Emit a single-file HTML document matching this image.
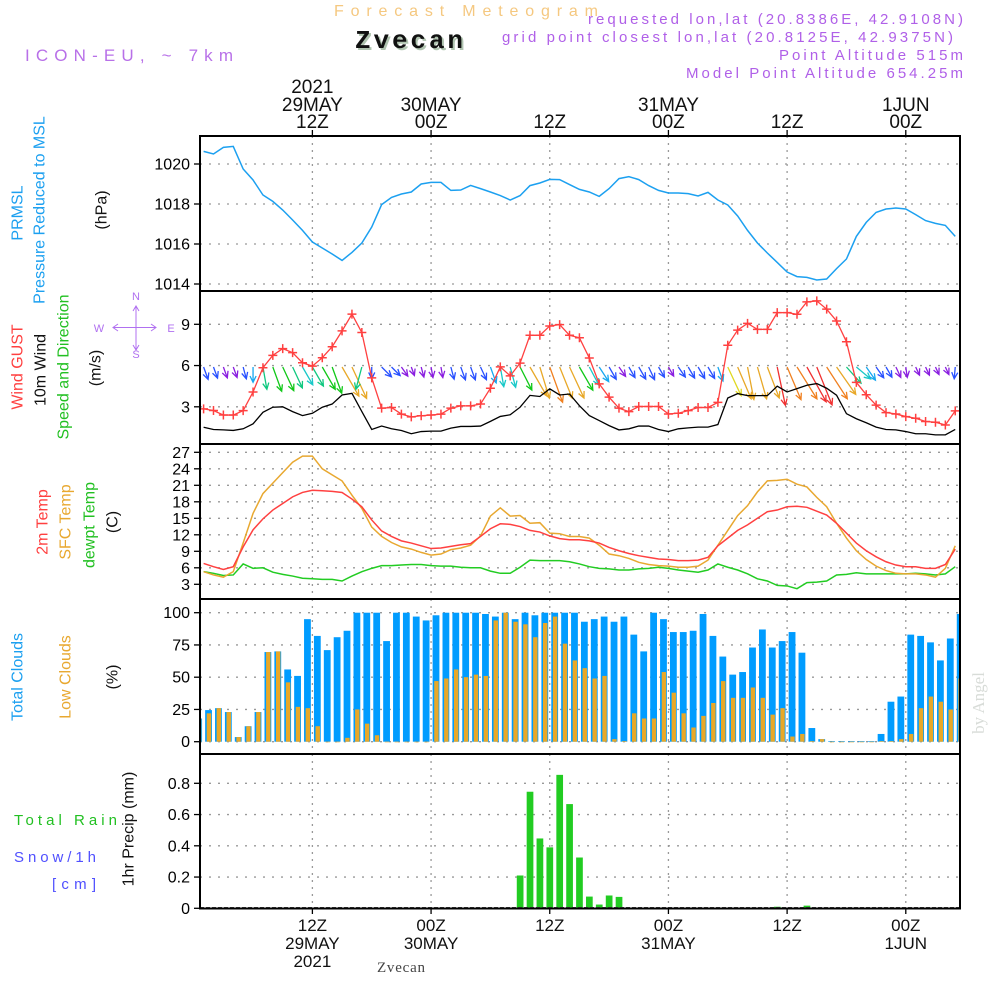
<!DOCTYPE html>
<html><head><meta charset="utf-8">
<style>
html,body{margin:0;padding:0;background:#fff;}
svg{display:block;font-family:"Liberation Sans",sans-serif;}
</style></head>
<body>
<svg id="chart" width="1000" height="1000" viewBox="0 0 1000 1000" xmlns="http://www.w3.org/2000/svg">
<defs>
<clipPath id="c1"><rect x="200" y="136" width="760" height="155"/></clipPath>
<clipPath id="c2"><rect x="200" y="291" width="760" height="153"/></clipPath>
<clipPath id="c3"><rect x="200" y="444" width="760" height="155"/></clipPath>
<clipPath id="c4"><rect x="200" y="599" width="760" height="155"/></clipPath>
<clipPath id="c5"><rect x="200" y="754" width="760" height="154.5"/></clipPath>
</defs>
<rect width="1000" height="1000" fill="#fff"/>
<!-- header -->
<text x="334" y="16" font-size="16" fill="#f5c880" textLength="264">Forecast Meteogram</text>
<text x="357" y="50" font-family="Liberation Mono, monospace" font-weight="bold" font-size="26" fill="#b0c4b0" textLength="108">Zvecan</text>
<text x="355" y="48" font-family="Liberation Mono, monospace" font-weight="bold" font-size="26" fill="#111" textLength="108">Zvecan</text>
<text x="25" y="61" font-size="17" fill="#b870e8" textLength="208">ICON-EU, ~ 7km</text>
<text x="588" y="24" font-size="15" fill="#b060e8" textLength="375">requested lon,lat (20.8386E, 42.9108N)</text>
<text x="502" y="42" font-size="15" fill="#b060e8" textLength="451">grid point closest lon,lat (20.8125E, 42.9375N)</text>
<text x="779" y="60" font-size="15" fill="#b060e8" textLength="184">Point Altitude 515m</text>
<text x="686" y="78" font-size="15" fill="#b060e8" textLength="277">Model Point Altitude 654.25m</text>

<!-- left labels -->
<g font-size="16" text-anchor="middle" dominant-baseline="central">
<text transform="translate(18,213) rotate(-90)" fill="#1ca0f0">PRMSL</text>
<text transform="translate(40,210) rotate(-90)" fill="#1ca0f0">Pressure Reduced to MSL</text>
<text transform="translate(102,210) rotate(-90)" fill="#111">(hPa)</text>
<text transform="translate(18,367) rotate(-90)" fill="#ff4040">Wind GUST</text>
<text transform="translate(41,370) rotate(-90)" fill="#111">10m Wind</text>
<text transform="translate(64,367) rotate(-90)" fill="#22c022">Speed and Direction</text>
<text transform="translate(96,368) rotate(-90)" fill="#111">(m/s)</text>
<text transform="translate(43,522) rotate(-90)" fill="#ff4040">2m Temp</text>
<text transform="translate(66,522) rotate(-90)" fill="#e8a830">SFC Temp</text>
<text transform="translate(90,525) rotate(-90)" fill="#22c022">dewpt Temp</text>
<text transform="translate(113,522) rotate(-90)" fill="#111">(C)</text>
<text transform="translate(18,677) rotate(-90)" fill="#1ca0f0">Total Clouds</text>
<text transform="translate(66,677) rotate(-90)" fill="#e8a830">Low Clouds</text>
<text transform="translate(113,677) rotate(-90)" fill="#111">(%)</text>
<text transform="translate(129,829) rotate(-90)" fill="#111">1hr Precip (mm)</text>
</g>
<text x="14" y="825" font-size="15" fill="#22c022" textLength="103">Total   Rain</text>
<text x="14" y="862" font-size="15" fill="#5050ff" textLength="82">Snow/1h</text>
<text x="52" y="889" font-size="15" fill="#5050ff" textLength="44">[cm]</text>
<!-- compass -->
<g fill="#b070f0" stroke="none" font-size="11" text-anchor="middle">
<text x="136" y="300">N</text><text x="136" y="358">S</text><text x="99" y="332">W</text><text x="171" y="332">E</text>
<g stroke="#b070f0" stroke-width="1" fill="none">
<path d="M113,327.5 H156 M136,306 V350 M118,324 L113,327.5 L118,331 M151,324 L156,327.5 L151,331 M133,311 L136,306 L139,311 M133,345 L136,350 L139,345"/>
</g></g>
<text transform="translate(984,703) rotate(-90)" font-family="Liberation Serif, serif" font-size="17" fill="#d8dcd8" text-anchor="middle">by Angel</text>
<text x="377" y="972" font-family="Liberation Serif, serif" font-size="15" fill="#444" textLength="48">Zvecan</text>

<g id="grid"></g>
<g id="marks"></g>
<g id="frames"></g>
<g id="axes"></g>
</svg>
<script>
const pressure=[1020.63,1020.5,1020.83,1020.88,1019.75,1019.2,1018.45,1018.13,1017.7,1017.2,
1016.68,1016.1,1015.8,1015.5,1015.18,1015.58,1016.05,1016.85,1017.97,1018.33,
1018.5,1018.6,1019.0,1019.08,1019.08,1018.68,1018.7,1018.93,1018.77,1018.6,
1018.42,1018.2,1018.42,1018.92,1019.05,1019.23,1019.22,1018.97,1018.73,1018.6,
1018.38,1018.77,1019.27,1019.37,1019.22,1018.92,1018.68,1018.55,1018.55,1018.52,
1018.4,1018.58,1018.2,1017.95,1017.4,1016.68,1016.05,1015.55,1015.08,1014.6,
1014.37,1014.33,1014.2,1014.25,1014.77,1015.25,1016.38,1017.08,1017.58,1017.75,
1017.8,1017.75,1017.47,1017.17,1017.03,1016.93,1016.38];
const gust=[2.85,2.73,2.4,2.4,2.72,4.08,5.84,6.74,7.23,6.94,
6.2,5.96,6.57,7.37,8.52,9.74,8.4,5.1,2.9,2.95,
2.47,2.27,2.35,2.4,2.47,2.9,3.07,3.07,3.2,4.35,
5.9,5.25,6.18,8.2,8.2,8.88,8.98,8.2,8.02,6.55,
4.67,3.7,2.9,2.65,3.02,3.02,3.02,2.48,2.53,2.72,
2.95,2.95,3.32,7.48,8.58,9.07,8.63,8.63,9.85,9.85,
9.73,10.63,10.7,10.1,9.24,7.73,4.78,3.88,3.12,2.58,
2.48,2.29,2.17,1.93,1.88,1.68,2.7];
const windSpeed=[1.51,1.35,1.32,1.28,1.4,1.76,2.6,2.97,3.0,2.65,
2.36,2.53,2.97,3.2,3.86,3.98,2.65,1.35,1.6,1.4,
1.28,1.04,1.2,1.23,1.23,1.45,1.57,1.57,1.6,1.94,
2.3,2.42,2.97,3.83,3.75,4.31,3.86,3.93,3.08,2.36,
2.0,1.63,1.32,1.4,1.6,1.6,1.35,1.2,1.4,1.47,
1.52,1.52,1.71,3.64,3.96,3.81,3.81,3.81,4.5,4.08,
4.32,4.57,4.69,4.35,3.84,2.5,2.13,1.84,1.52,1.35,
1.32,1.2,1.04,1.04,0.96,0.96,1.35];
const windDir=[20,20,20,20,15,0,10,20,25,25,
30,30,30,20,30,25,-15,0,45,45,
35,20,15,10,10,15,20,20,25,20,
10,15,27,30,17,20,22,25,30,28,
33,30,35,30,30,25,30,30,35,30,
30,30,20,25,23,11,16,21,12,23,
32,29,22,33,35,42,50,35,35,30,
25,8,25,25,25,25,-5];
const t2m=[6.8,6.2,5.7,6.2,9.8,12.9,14.9,16.5,17.7,18.9,
19.7,20.1,20.0,19.9,19.7,18.5,17.1,14.7,12.7,11.7,
10.9,10.5,10.0,9.5,9.6,9.9,10.2,10.4,11.7,13.1,
14.0,13.9,13.5,12.8,12.5,11.8,11.3,11.1,11.1,10.9,
10.5,9.7,9.1,8.6,8.2,7.9,7.6,7.5,7.3,7.3,
7.4,7.9,10.0,11.4,12.8,13.8,15.0,16.2,16.5,17.1,
17.2,17.0,16.3,15.6,14.1,12.3,10.5,9.1,8.0,7.1,
6.5,6.2,6.2,5.9,5.9,6.6,9.4];
const tsfc=[5.3,4.7,4.3,5.3,10.5,15.9,19.5,21.4,23.3,25.2,
26.3,26.3,24.0,22.9,21.8,19.2,16.8,13.4,11.7,10.6,
9.8,9.4,8.8,8.3,8.5,9.3,9.6,10.1,11.8,15.4,
16.9,15.4,15.5,14.1,14.2,12.3,12.2,11.7,11.7,11.4,
10.1,8.5,8.2,7.7,7.0,6.6,6.4,6.3,6.1,6.1,
6.3,7.4,10.1,12.8,15.5,17.3,19.8,21.8,21.9,22.1,
21.2,20.7,18.8,17.1,14.1,11.4,9.1,7.5,6.3,5.5,
5.0,4.9,4.9,4.7,4.3,5.9,10.0];
const tdew=[5.3,5.0,4.6,4.7,6.7,5.9,6.0,5.2,4.8,4.5,
4.1,4.0,3.9,3.9,3.6,4.5,5.3,5.9,6.4,6.4,
6.5,6.6,6.6,6.4,6.3,6.3,6.1,6.0,6.0,5.4,
5.0,5.0,6.1,7.4,7.3,7.3,7.3,7.1,6.7,6.2,
5.9,5.8,5.6,5.6,5.8,5.9,6.1,5.9,5.6,5.4,
5.2,5.6,6.7,6.1,5.6,4.9,4.0,3.6,2.8,2.7,
2.2,3.3,3.4,3.6,4.7,4.8,5.1,4.9,4.9,4.9,
4.9,4.9,5.0,4.9,4.7,4.9,6.2];
const totalClouds=[18,24.5,26,23,3.6,12,23,69.5,70,56,
51,95,82,71,81,86,100,100,100,78,
100,100,97,94,98,100,100,100,100,99,
97,100,95,100,98,100,100,100,100,93,
95,97,93,97,83,70,100,95,85,85,
86,99,82,66,52,54,73,87,73,78,
85,69,10.6,2,0.5,0.5,0.5,0.5,0.5,6,
31,35,83,82,77,63,80,99];
const lowClouds=[18,22,26,23,3.6,12,23,69.5,70,46,
27,26,12,0,0,3,25,14,5,0,
0,0,0,0,47,49,56,50,52,51,
94,100,93,91,81,92,97,76,63,57,
49,51,2,0.5,22,18,18,54,38,22,
11,20,30,47,34,34,42,34,21,26,
4,6,0.5,2,0,0,0,0,0,0.5,
0.5,2,6,26,35,31,25,49];
const precip=[0,0,0,0,0,0,0,0,0,0,
0,0,0,0,0,0,0,0,0,0,
0,0,0,0,0,0,0,0,0,0,
0,0,0.21,0.746,0.447,0.39,0.854,0.667,0.325,0.075,
0.024,0.082,0.073,0.003,0,0,0,0,0,0,
0,0,0,0,0,0.005,0.002,0,0.01,0,
0,0.017,0,0,0,0,0,0,0,0,
0,0,0,0,0,0,0];
const pTicks=[1014,1016,1018,1020];
const wTicks=[3,6,9];
const tTicks=[3,6,9,12,15,18,21,24,27];
const cTicks=[0,25,50,75,100];
const rTicks=[0,0.2,0.4,0.6,0.8];
const timeTickHours=[11,23,35,47,59,71];
const topLabels=[["2021","29MAY","12Z"],["","30MAY","00Z"],["","","12Z"],["","31MAY","00Z"],["","","12Z"],["","1JUN","00Z"]];
const bottomLabels=[["12Z","29MAY","2021"],["00Z","30MAY",""],["12Z","",""],["00Z","31MAY",""],["12Z","",""],["00Z","1JUN",""]];

const NS="http://www.w3.org/2000/svg";
function mk(tag,attrs,parent){const e=document.createElementNS(NS,tag);for(const k in attrs)e.setAttribute(k,attrs[k]);parent.appendChild(e);return e;}
const xs=h=>203.6+9.89*h;
const yP=p=>164+(1020-p)*20;
const yW=v=>406.8-(v-3)*13.75;
const yT=t=>584.3-(t-3)*5.5;
const yC=c=>741.7-c*1.29;
const yR=r=>908.3-r*156.25;
const grid=document.getElementById('grid');
const marks=document.getElementById('marks');
const frames=document.getElementById('frames');
const axes=document.getElementById('axes');
const panels=[[136,291],[291,444],[444,599],[599,754],[754,908.5]];

// vertical grid
panels.forEach(p=>{timeTickHours.forEach(h=>{
 const l=mk('line',{x1:xs(h),x2:xs(h),y1:p[0],y2:p[1],stroke:'#999','stroke-width':1.3,'stroke-dasharray':'2,5'},grid);
 
 
});});
function yAxis(ticks,yf,fmt,name){
 ticks.forEach(v=>{
  const y=yf(v);
  const g=mk('line',{x1:200,x2:960,y1:y,y2:y,stroke:'#999','stroke-width':1.3,'stroke-dasharray':'2,7'},grid);
  
  
  mk('line',{x1:194,x2:200,y1:y,y2:y,stroke:'#000','stroke-width':1.3},axes);
  const t=mk('text',{x:190,y:y+5.5,'text-anchor':'end','font-size':16,fill:'#000'},axes);
  t.textContent=fmt(v);
  
  
 });
}
yAxis(pTicks,yP,v=>String(v),'pressure');
yAxis(wTicks,yW,v=>String(v),'wind');
yAxis(tTicks,yT,v=>String(v),'temp');
yAxis(cTicks,yC,v=>String(v),'cloud');
yAxis(rTicks,yR,v=>v===0?'0':v.toFixed(1),'precip');

function line(vals,yf,color,clip,name,w){
 const d=vals.map((v,i)=>(i?'L':'M')+xs(i).toFixed(2)+','+yf(v).toFixed(2)).join(' ');
 const p=mk('path',{d:d,fill:'none',stroke:color,'stroke-width':w||1.4,'clip-path':'url(#'+clip+')'},marks);
 
 
 return p;
}
// panel 1
line(pressure,yP,'#1ca0f0','c1','pressure-line',1.5);
// panel 2 wind
function windColor(s){
 if(s<1.35)return '#8a1ee0';
 if(s<1.7)return '#2850ff';
 if(s<2.1)return '#18a8f0';
 if(s<2.5)return '#18c8c8';
 if(s<2.85)return '#10c880';
 if(s<3.3)return '#10c818';
 if(s<3.55)return '#a8e020';
 if(s<3.7)return '#e0d820';
 if(s<4.0)return '#e8a828';
 if(s<4.4)return '#f08020';
 return '#f03030';
}
const wg=mk('g',{'clip-path':'url(#c2)'},marks);
windSpeed.forEach((s,i)=>{
 const a=windDir[i]*Math.PI/180;
 const L=8.7*s;
 const x0=xs(i),y0=367;
 const x1=x0+L*Math.sin(a),y1=y0+L*Math.cos(a);
 const ux=(x1-x0)/L,uy=(y1-y0)/L;
 const hl=7,c=Math.cos(0.45),sn=Math.sin(0.45);
 const hx1=x1-hl*(ux*c-uy*sn),hy1=y1-hl*(uy*c+ux*sn);
 const hx2=x1-hl*(ux*c+uy*sn),hy2=y1-hl*(uy*c-ux*sn);
 const p=mk('path',{d:`M${x0},${y0} L${x1},${y1} M${hx1},${hy1} L${x1},${y1} L${hx2},${hy2}`,fill:'none',stroke:windColor(s),'stroke-width':1.3},wg);
 
 
});
line(windSpeed,yW,'#000','c2','wind-speed-line',1.3);
line(gust,yW,'#ff4040','c2','gust-line',1.3);
const gg=mk('g',{'clip-path':'url(#c2)'},marks);
gust.forEach((v,i)=>{
 const x=xs(i),y=yW(v);
 const p=mk('path',{d:`M${x-4.5},${y} H${x+4.5} M${x},${y-4.5} V${y+4.5}`,stroke:'#ff4040','stroke-width':1.5},gg);
 
 
});
// panel 3
line(tdew,yT,'#22cc22','c3','dewpoint-line',1.5);
line(tsfc,yT,'#e8a830','c3','sfc-temp-line',1.5);
line(t2m,yT,'#ff4040','c3','t2m-line',1.5);
// panel 4 clouds
const cg=mk('g',{'clip-path':'url(#c4)'},marks);
totalClouds.forEach((v,k)=>{
 const cx=xs(k-0.5);
 const b=mk('rect',{x:cx-3.4,y:yC(v),width:6.8,height:Math.max(yC(0)-yC(v),0.6),fill:'#009cff'},cg);
 
 
 const lv=lowClouds[k];
 const o=mk('rect',{x:cx-1.8,y:yC(lv),width:4.4,height:Math.max(yC(0)-yC(lv),0.6),fill:'#e8a828'},cg);
 
 
});
// panel 5 precip
const rg=mk('g',{'clip-path':'url(#c5)'},marks);
precip.forEach((v,i)=>{
 if(v<=0)return;
 const cx=xs(i);
 const b=mk('rect',{x:cx-3.3,y:yR(v),width:6.7,height:Math.max(yR(0)-yR(v),0.8),fill:'#22cc22'},rg);
 
 
});
mk('line',{x1:200,x2:960,y1:907.5,y2:907.5,stroke:'#444','stroke-width':1,'stroke-dasharray':'4,2'},rg);
// frames
panels.forEach((p,k)=>{
 const r=mk('rect',{x:200,y:p[0],width:760,height:p[1]-p[0],fill:'none',stroke:'#000','stroke-width':2},frames);
 
 
});
// time axis labels
timeTickHours.forEach((h,k)=>{
 const x=xs(h);
 mk('line',{x1:x,x2:x,y1:130,y2:136,stroke:'#000','stroke-width':1.3},axes);
 mk('line',{x1:x,x2:x,y1:908.5,y2:914,stroke:'#000','stroke-width':1.3},axes);
 const tl=topLabels[k];
 [93,111,128].forEach((yy,r)=>{
  if(!tl[r])return;
  const t=mk('text',{x:x,y:yy,'text-anchor':'middle','font-size':19,fill:'#111'},axes);
  t.textContent=tl[r];
  
  
 });
 const bl=bottomLabels[k];
 [931,949,967].forEach((yy,r)=>{
  if(!bl[r])return;
  const t=mk('text',{x:x,y:yy,'text-anchor':'middle','font-size':17,fill:'#111'},axes);
  t.textContent=bl[r];
  
  
 });
});
</script>
</body></html>
